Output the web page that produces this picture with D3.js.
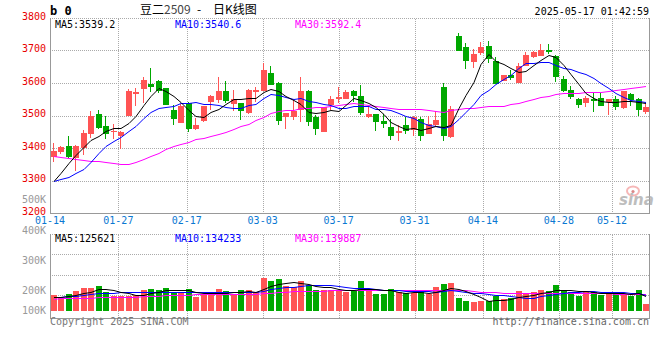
<!DOCTYPE html>
<html>
<head>
<meta charset="utf-8">
<script src="https://cdn.jsdelivr.net/npm/d3@7"></script>
<style>
  body { margin: 0; background: #fff; }
  svg text { font-family: "DejaVu Sans Mono", monospace; font-size: 10px; }
</style>
</head>
<body>
<script>
// daily K line, 豆二2509, one entry per candle (80 candles)
var open = [3372,3388,3405,3371,3400,3444,3506,3469,3449,3438,
  3500,3565,3582,3598,3607,3584,3518,3477,3540,3460,
  3482,3540,3549,3576,3538,3540,3507,3571,3577,3632,
  3600,3497,3495,3516,3574,3495,3448,3533,3549,3552,
  3574,3561,3497,3505,3482,3465,3446,3472,3454,3488,
  3444,3472,3589,3434,3745,3710,3666,3690,3714,3669,
  3608,3626,3602,3653,3680,3685,3700,3684,3612,3579,
  3552,3540,3551,3554,3543,3551,3521,3567,3551,3510];
var high = [3415,3407,3436,3409,3456,3513,3518,3497,3475,3452,
  3581,3584,3620,3647,3609,3586,3533,3536,3543,3492,
  3530,3562,3617,3605,3577,3540,3583,3587,3661,3651,
  3602,3508,3549,3620,3579,3502,3525,3561,3589,3579,
  3579,3595,3528,3505,3505,3489,3472,3495,3497,3495,
  3500,3513,3600,3530,3755,3722,3704,3725,3728,3680,
  3625,3640,3661,3694,3697,3720,3720,3687,3622,3592,
  3554,3559,3569,3571,3551,3559,3574,3570,3554,3536];
var low = [3358,3383,3369,3328,3377,3431,3458,3428,3428,3397,
  3500,3530,3540,3571,3569,3531,3470,3477,3449,3456,
  3480,3518,3538,3540,3513,3485,3505,3543,3577,3595,
  3472,3459,3485,3479,3469,3441,3448,3518,3540,3550,
  3543,3502,3492,3451,3462,3426,3421,3444,3436,3422,
  3444,3467,3421,3431,3700,3643,3646,3687,3663,3597,
  3605,3608,3600,3653,3676,3682,3690,3602,3571,3551,
  3523,3526,3510,3528,3502,3516,3521,3530,3500,3505];
var close = [3390,3404,3371,3407,3446,3500,3462,3443,3453,3450,
  3576,3571,3610,3590,3576,3531,3490,3530,3460,3472,
  3528,3559,3576,3546,3552,3516,3577,3577,3641,3595,
  3482,3508,3513,3574,3479,3459,3525,3552,3556,3572,
  3559,3508,3505,3479,3472,3438,3451,3454,3495,3436,
  3474,3487,3438,3520,3700,3666,3690,3710,3673,3597,
  3625,3618,3653,3687,3694,3702,3694,3618,3574,3559,
  3533,3554,3545,3528,3551,3525,3574,3549,3518,3525];

var ma5 = [3300,3324,3354,3380,3404,3426,3437,3452,3461,3462,
  3477,3499,3532,3559,3585,3576,3559,3543,3517,3497,
  3496,3510,3519,3536,3552,3550,3553,3554,3573,3581,
  3574,3561,3548,3534,3511,3507,3510,3518,3514,3533,
  3553,3549,3540,3525,3505,3480,3469,3459,3462,3455,
  3462,3469,3466,3471,3524,3562,3603,3657,3688,3667,
  3659,3645,3633,3636,3655,3671,3686,3679,3656,3629,
  3596,3568,3553,3544,3542,3541,3545,3545,3543,3539];
var ma10 = [3300,3306,3312,3322,3336,3358,3384,3406,3422,3433,
  3451,3468,3492,3510,3523,3526,3529,3538,3538,3541,
  3536,3535,3531,3527,3524,3523,3532,3536,3554,3567,
  3562,3557,3551,3554,3546,3541,3535,3533,3524,3522,
  3530,3530,3529,3519,3519,3517,3509,3499,3493,3480,
  3471,3469,3462,3467,3489,3512,3536,3562,3579,3596,
  3611,3624,3645,3662,3661,3665,3665,3656,3646,3642,
  3633,3627,3616,3600,3586,3568,3556,3549,3544,3541];
var ma30 = [3374,3372,3369,3365,3362,3361,3359,3357,3354,3352,
  3352,3357,3365,3375,3385,3396,3405,3412,3420,3428,
  3431,3436,3444,3449,3459,3467,3475,3485,3495,3508,
  3513,3516,3518,3522,3524,3525,3526,3528,3532,3536,
  3538,3536,3533,3529,3526,3523,3521,3520,3520,3520,
  3518,3515,3512,3516,3520,3522,3524,3526,3528,3529,
  3530,3534,3540,3544,3551,3556,3561,3567,3569,3570,
  3570,3571,3571,3573,3575,3579,3581,3584,3587,3592];

// volume, in thousands of lots
var volume = [130,103,139,163,188,188,204,155,122,122,
  122,130,171,180,171,188,144,158,180,114,
  139,139,180,163,139,171,171,152,269,245,
  261,204,196,245,212,171,171,171,171,158,
  171,245,171,139,137,177,151,143,150,163,
  140,196,218,228,106,80,72,80,80,121,
  95,110,162,144,155,171,163,212,171,155,
  122,155,155,130,155,139,139,122,171,57];
var volMa5 = [112,114,120,130,145,156,176,180,171,158,
  145,130,133,145,155,168,171,168,168,157,
  147,146,150,147,152,158,165,159,180,202,
  220,226,235,230,224,206,199,194,179,168,
  168,183,183,177,173,174,155,149,152,157,
  149,158,173,189,178,166,141,113,84,87,
  90,97,114,126,133,148,159,169,174,174,
  165,163,152,143,143,147,144,137,145,126];
var volMa10 = [111,116,122,126,130,137,144,147,150,151,
  151,153,157,158,157,157,151,151,157,156,
  158,158,159,158,154,153,155,155,164,177,
  189,196,197,205,213,213,213,215,205,196,
  187,191,189,178,171,171,169,166,164,165,
  162,157,161,170,167,158,150,143,136,132,
  128,119,113,105,110,119,128,141,150,154,
  157,161,160,159,159,156,153,144,144,134];
var volMa30 = [101,103,105,107,109,110,111,112,113,114,
  116,118,120,123,126,128,130,132,134,136,
  137,137,138,138,139,139,140,141,145,150,
  155,158,160,163,165,166,167,168,170,171,
  171,171,171,171,171,171,171,171,171,171,
  171,171,171,171,170,168,165,155,153,152,
  147,146,145,145,145,145,145,145,145,144,
  144,144,143,143,143,142,142,141,140,140];

var priceTicks = [3200, 3300, 3400, 3500, 3600, 3700, 3800];
var volTicks = [500, 400, 300, 200, 100];
var tickLabels = ["01-14", "01-27", "02-17", "03-03", "03-17", "03-31", "04-14", "04-28", "05-12"];
var tickDays = [0, 9, 18, 28, 38, 48, 57, 67, 74];
var maNames = ["MA5", "MA10", "MA30"];
var priceMaLast = ["3539.2", "3540.6", "3592.4"];
var volMaLast = ["125621", "134233", "139887"];

var width = 660;
var height = 360;
var left = 50, right = 650;
var upColor = "#ff5454", downColor = "#00a800";
var maColors = ["#000000", "#0000ff", "#ff00ff"];
var gridColor = "#aaaaaa", borderColor = "#999999";

var svg = d3.select("body")
            .append("svg")
            .attr("width", width)
            .attr("height", height);

var xScale = d3.scaleBand()
               .domain(d3.range(close.length))
               .range([left, right])
               .paddingInner(0.2)
               .paddingOuter(0.1);
// axis labels are placed on a trading-day scale, a bit wider than the candles
var dayScale = d3.scaleLinear().domain([0, 79]).range([left, right]);
var yScale = d3.scaleLinear().domain([3200, 3800]).range([213, 18]);
var vScale = d3.scaleLinear().domain([0, 620]).range([311, 235]);
var vLabelScale = d3.scaleLinear().domain([200, 500]).range([294.3, 203.3]);

function px(v) { return Math.round(v) + 0.5; }
function bx(i) { return Math.round(xScale(i)); }
var bw = Math.round(xScale.bandwidth());
function colorOf(i) { return close[i] >= open[i] ? upColor : downColor; }

// ---- grid ----
var grid = svg.append("g")
              .attr("stroke", gridColor)
              .attr("stroke-dasharray", "1,1")
              .attr("shape-rendering", "crispEdges");

grid.selectAll(".hp")
    .data(priceTicks.slice(1))
    .enter()
    .append("line")
    .attr("x1", left).attr("x2", right - 1)
    .attr("y1", function(d){ return px(yScale(d)); })
    .attr("y2", function(d){ return px(yScale(d)); });

grid.selectAll(".hv")
    .data([0, 1, 2, 3])
    .enter()
    .append("line")
    .attr("x1", left).attr("x2", right - 1)
    .attr("y1", function(d){ return px(234 + d * 20.3); })
    .attr("y2", function(d){ return px(234 + d * 20.3); });

tickDays.slice(1).forEach(function(d){
  var x = px(dayScale(d));
  grid.append("line").attr("x1", x).attr("x2", x).attr("y1", 19).attr("y2", 213);
  grid.append("line").attr("x1", x).attr("x2", x).attr("y1", 235).attr("y2", 318);
});

// ---- solid borders ----
var border = svg.append("g")
                .attr("stroke", borderColor)
                .attr("shape-rendering", "crispEdges");
[[18, 213.5], [234, 318.5]].forEach(function(r){
  border.append("line").attr("x1", left + 0.5).attr("x2", left + 0.5).attr("y1", r[0]).attr("y2", r[1]);
  border.append("line").attr("x1", right - 0.5).attr("x2", right - 0.5).attr("y1", r[0]).attr("y2", r[1]);
  border.append("line").attr("x1", left).attr("x2", right).attr("y1", r[1]).attr("y2", r[1]);
});

// ---- sina watermark ----
var logo = svg.append("g").attr("opacity", 0.75);
logo.append("ellipse").attr("cx", 633).attr("cy", 191).attr("rx", 6).attr("ry", 4.5)
    .attr("fill", "none").attr("stroke", "#f4a0a0").attr("stroke-width", 2);
logo.append("circle").attr("cx", 633).attr("cy", 191.5).attr("r", 1.6).attr("fill", "#d06060");
logo.append("text").attr("x", 619).attr("y", 205)
    .style("font-family", "'DejaVu Sans', sans-serif")
    .style("font-size", "15px").style("font-style", "italic").style("font-weight", "bold")
    .attr("fill", "#a8a8a8").text("sina");

// ---- candles ----
var candles = svg.append("g").attr("shape-rendering", "crispEdges");
candles.selectAll("line")
       .data(close)
       .enter()
       .append("line")
       .attr("x1", function(d, i){ return bx(i) + 2.5; })
       .attr("x2", function(d, i){ return bx(i) + 2.5; })
       .attr("y1", function(d, i){ return Math.round(yScale(high[i])); })
       .attr("y2", function(d, i){ return Math.round(yScale(low[i])); })
       .attr("stroke", function(d, i){ return colorOf(i); });

candles.selectAll("rect")
       .data(close)
       .enter()
       .append("rect")
       .attr("x", function(d, i){ return bx(i); })
       .attr("width", bw)
       .attr("y", function(d, i){ return Math.round(yScale(Math.max(open[i], d))); })
       .attr("height", function(d, i){
         return Math.max(1, Math.round(Math.abs(yScale(open[i]) - yScale(d))));
       })
       .attr("fill", function(d, i){ return colorOf(i); });

// ---- volume bars ----
svg.append("g")
   .attr("shape-rendering", "crispEdges")
   .selectAll("rect")
   .data(volume)
   .enter()
   .append("rect")
   .attr("x", function(d, i){ return bx(i); })
   .attr("width", bw)
   .attr("y", function(d){ return Math.round(vScale(d)); })
   .attr("height", function(d){ return Math.round(vScale(0)) - Math.round(vScale(d)); })
   .attr("fill", function(d, i){ return colorOf(i); });

// ---- moving averages ----
function drawLine(values, scale, color) {
  var line = d3.line()
               .x(function(d, i){ return bx(i) + 3; })
               .y(function(d){ return Math.round(scale(d)) + 0.5; });
  svg.append("path")
     .datum(values)
     .attr("d", line)
     .attr("fill", "none")
     .attr("stroke", color)
     .attr("stroke-width", 1);
}
[ma30, ma10, ma5].forEach(function(s, j){ drawLine(s, yScale, maColors[2 - j]); });
[volMa30, volMa10, volMa5].forEach(function(s, j){ drawLine(s, vScale, maColors[2 - j]); });

// ---- axis labels ----
svg.append("g")
   .selectAll("text")
   .data(volTicks)
   .enter()
   .append("text")
   .attr("x", 46)
   .attr("y", function(d){ return Math.min(vLabelScale(d), 314.3); })
   .attr("text-anchor", "end")
   .attr("fill", "#999999")
   .text(function(d){ return d + "K"; });

svg.append("g")
   .selectAll("text")
   .data(priceTicks)
   .enter()
   .append("text")
   .attr("x", 46)
   .attr("y", function(d){ return yScale(d) + 1.5; })
   .attr("text-anchor", "end")
   .attr("fill", "#e80000")
   .text(function(d){ return d; });

svg.append("g")
   .selectAll("text")
   .data(tickLabels)
   .enter()
   .append("text")
   .attr("x", function(d, i){ return dayScale(tickDays[i]); })
   .attr("y", 224)
   .attr("text-anchor", "middle")
   .attr("fill", "#0a78d2")
   .text(function(d){ return d; });

// ---- legends ----
maNames.forEach(function(name, j){
  svg.append("text").attr("x", 55 + j * 120).attr("y", 27.5)
     .attr("fill", maColors[j]).text(name + ":" + priceMaLast[j]);
  svg.append("text").attr("x", 55 + j * 120).attr("y", 242)
     .attr("fill", maColors[j]).text(name + ":" + volMaLast[j]);
});

// ---- header / footer ----
svg.append("text").attr("x", 50).attr("y", 15)
   .style("font-size", "12px").style("font-weight", "bold")
   .attr("fill", "#000").text("b 0");

var title = svg.append("text").attr("y", 14)
               .style("font-family", "'Noto Sans CJK SC', sans-serif")
               .style("font-size", "12px").attr("fill", "#000");
title.append("tspan").attr("x", 140).text("豆二");
title.append("tspan").attr("fill", "#444").text("2509");
title.append("tspan").attr("x", 197).text("-");
title.append("tspan").attr("x", 213).text("日K线图");

svg.append("text").attr("x", 649).attr("y", 15)
   .attr("text-anchor", "end").attr("fill", "#000")
   .text("2025-05-17 01:42:59");

svg.append("text").attr("x", 50).attr("y", 325)
   .attr("fill", "#777").text("Copyright 2025 SINA.COM");
svg.append("text").attr("x", 649).attr("y", 325)
   .attr("text-anchor", "end").attr("fill", "#666")
   .text("http://finance.sina.com.cn");
</script>
</body>
</html>
